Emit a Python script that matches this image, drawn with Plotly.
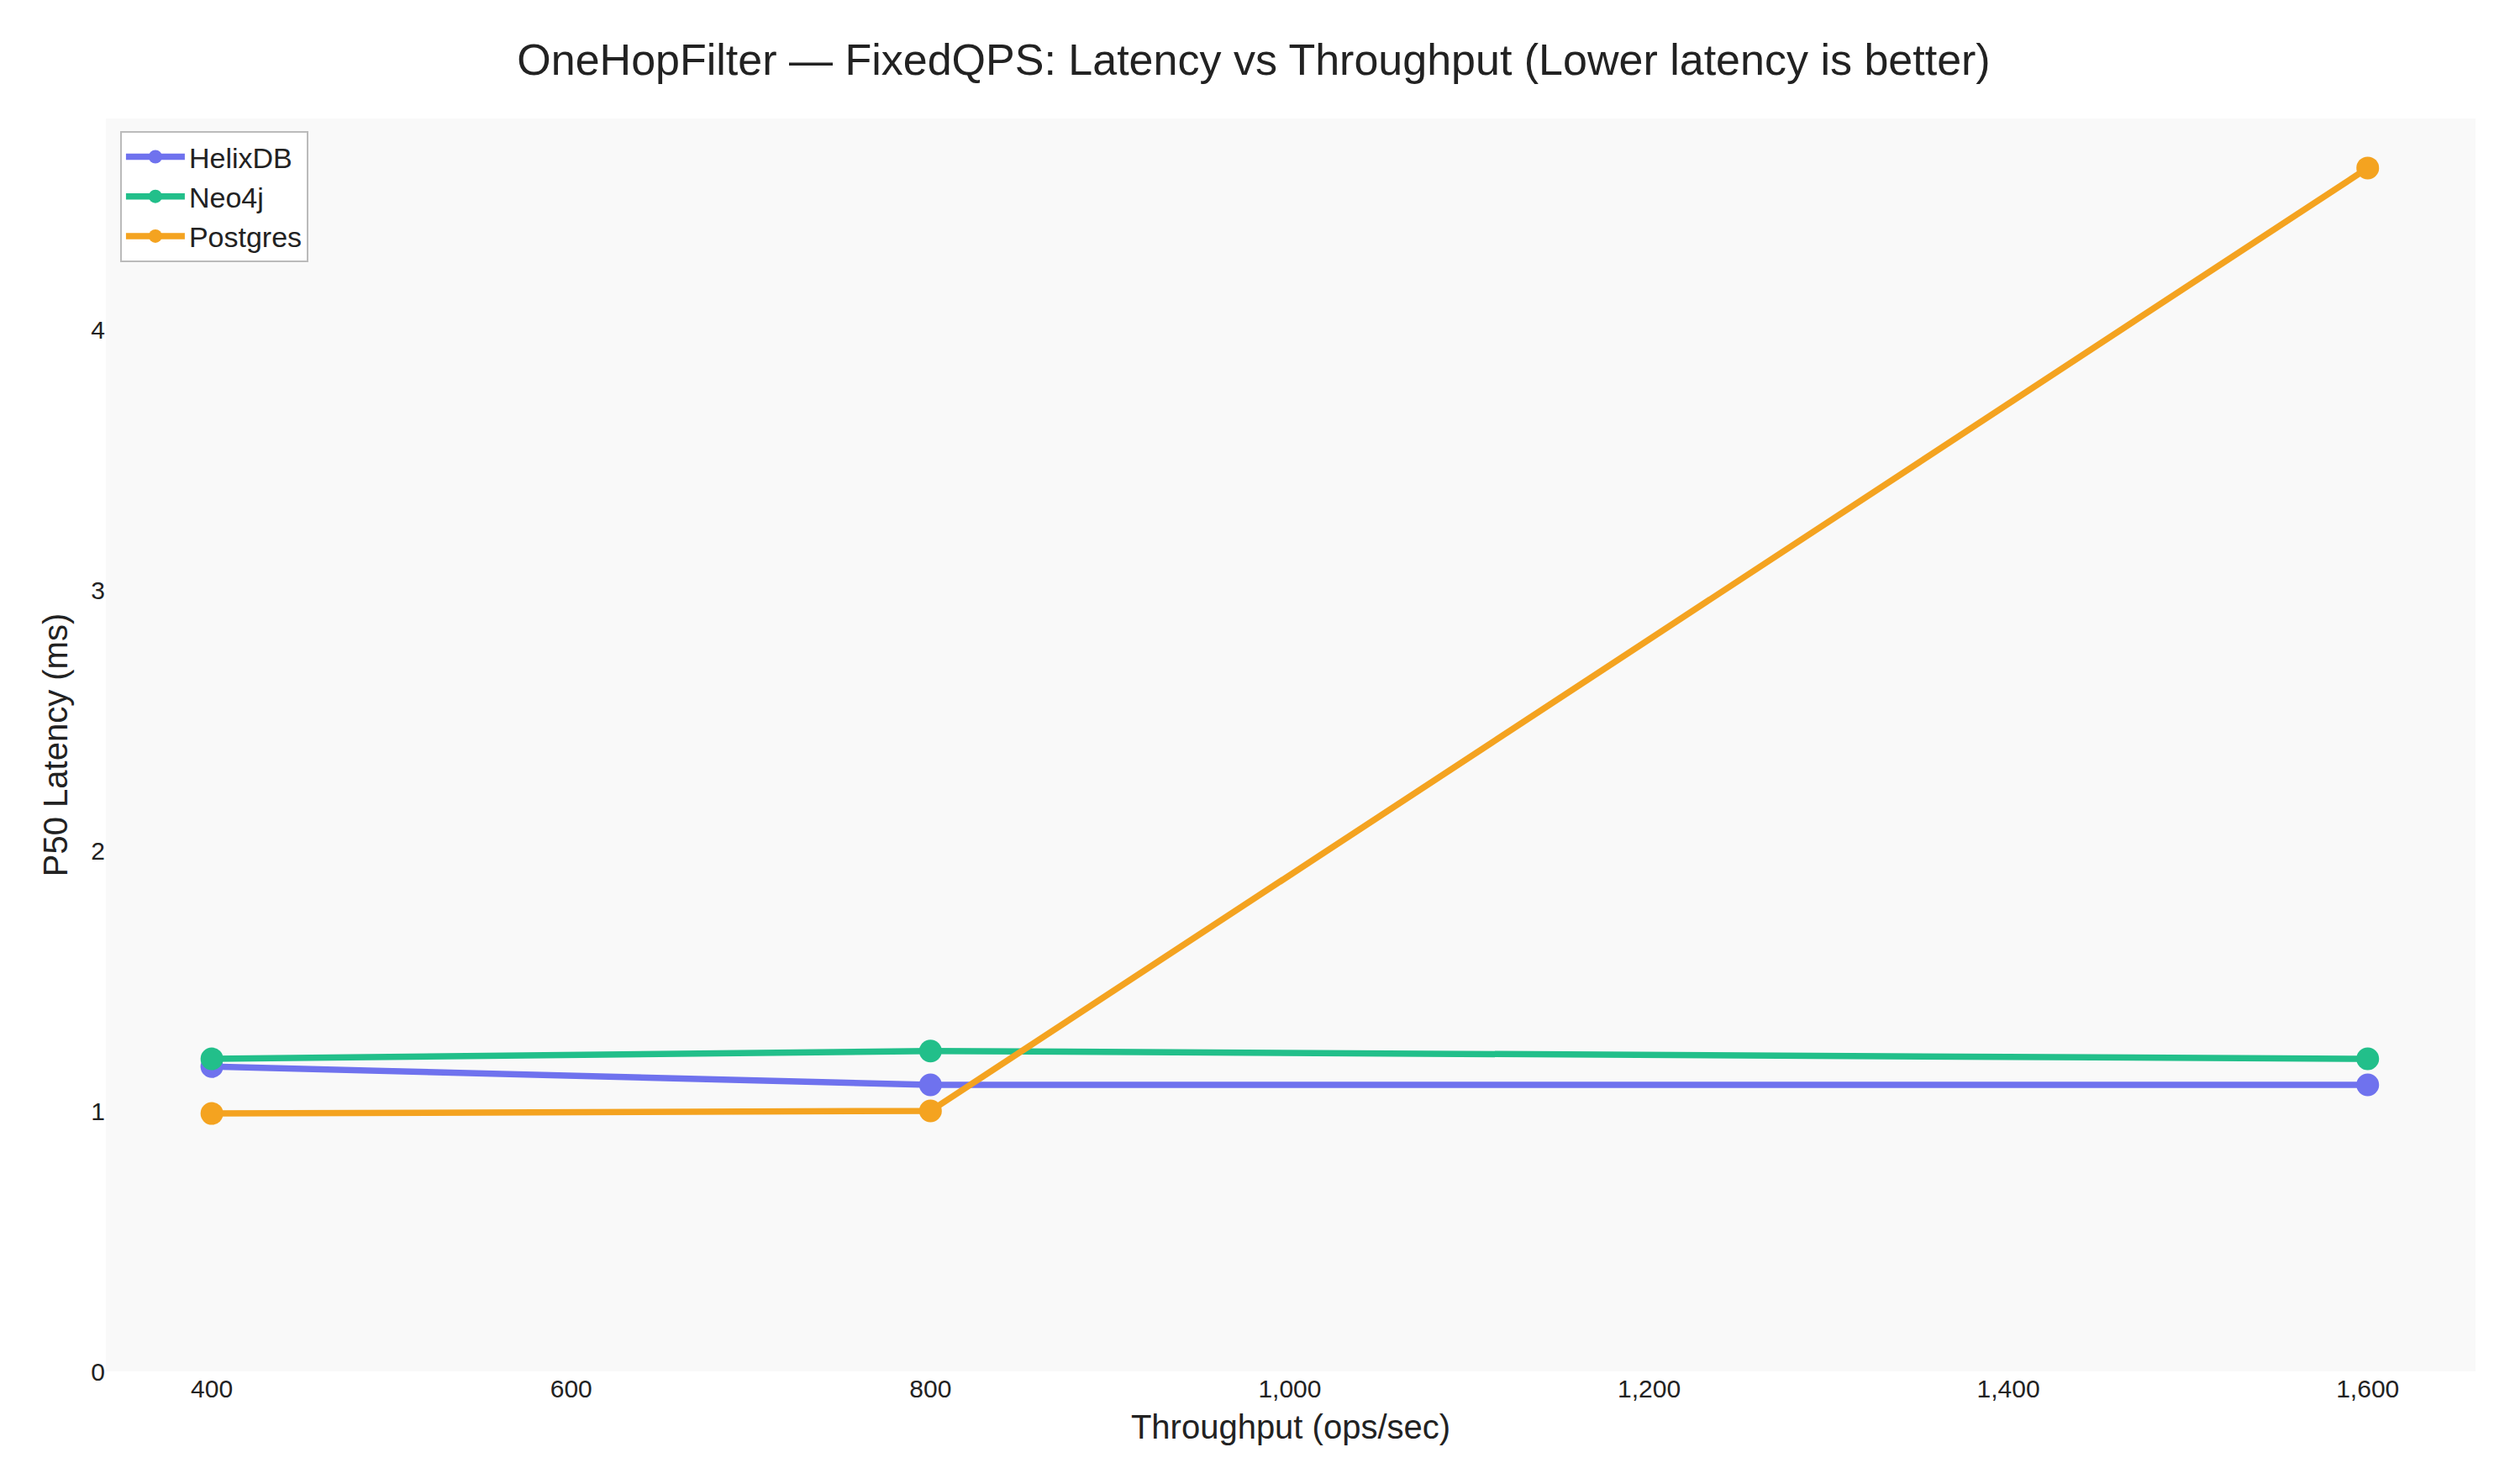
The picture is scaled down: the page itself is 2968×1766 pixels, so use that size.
import plotly.graph_objects as go

throughput = [400, 800, 1600]
helixdb = [1.17, 1.10, 1.10]
neo4j = [1.20, 1.23, 1.20]
postgres = [0.99, 1.00, 4.62]

series = [
    ("HelixDB", helixdb, "#6f72ee"),
    ("Neo4j", neo4j, "#22bf8a"),
    ("Postgres", postgres, "#f4a320"),
]

fig = go.Figure()
for name, vals, col in series:
    fig.add_trace(go.Scatter(x=throughput, y=vals, name=name, mode="lines+markers",
                             line=dict(color=col, width=7.5),
                             marker=dict(color=col, size=27)))

fig.update_layout(
    width=2968, height=1766,
    font=dict(family="Liberation Sans, Arial, sans-serif", color="#222"),
    title=dict(text="OneHopFilter — FixedQPS: Latency vs Throughput (Lower latency is better)",
               x=0.5, xanchor="center", y=0.975, font=dict(size=52)),
    paper_bgcolor="white", plot_bgcolor="#f9f9f9",
    margin=dict(l=118, r=30, t=133, b=142),
    legend=dict(x=0.006, y=0.99, xanchor="left", yanchor="top",
                bgcolor="white", bordercolor="#bbb", borderwidth=2,
                itemwidth=70, font=dict(size=34)),
    xaxis=dict(title=dict(text="Throughput (ops/sec)", font=dict(size=40)),
               range=[341, 1660], tickvals=[400, 600, 800, 1000, 1200, 1400, 1600],
               tickformat=",", showgrid=False, zeroline=False, showline=False,
               tickfont=dict(size=30)),
    yaxis=dict(title=dict(text="P50 Latency (ms)", font=dict(size=40)),
               range=[0, 4.81], tickvals=[0, 1, 2, 3, 4],
               showgrid=False, zeroline=False, showline=False,
               tickfont=dict(size=30)),
)

fig.write_html("out.html")
